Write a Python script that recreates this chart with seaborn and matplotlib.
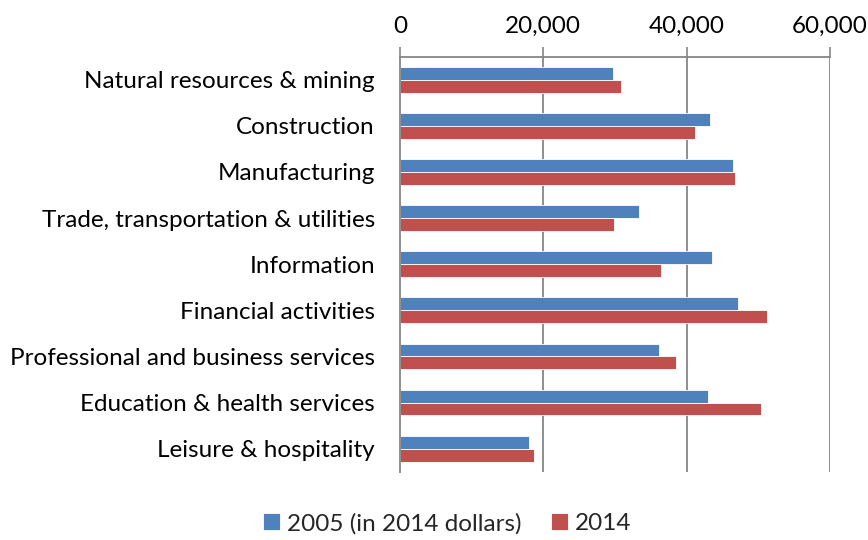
import pandas as pd
import numpy as np
import matplotlib
matplotlib.use('Agg')
import matplotlib.pyplot as plt
from matplotlib.ticker import FuncFormatter, FixedLocator
import seaborn as sns

industries = [
    "Natural resources & mining",
    "Construction",
    "Manufacturing",
    "Trade, transportation & utilities",
    "Information",
    "Financial activities",
    "Professional and business services",
    "Education & health services",
    "Leisure & hospitality",
]
wages_2005 = [29700, 43200, 46500, 33300, 43600, 47100, 36200, 42950, 17950]
wages_2014 = [30800, 41200, 46700, 29800, 36450, 51200, 38500, 50350, 18700]
series_names = ["2005 (in 2014 dollars)", "2014"]
x_ticks = [0, 20000, 40000, 60000]

df = pd.DataFrame({
    "industry": industries * 2,
    "wage": wages_2005 + wages_2014,
    "series": [series_names[0]] * len(industries) + [series_names[1]] * len(industries),
})

sns.set_style("white")
plt.rcParams['font.family'] = ['Lato', 'DejaVu Sans']

fig = plt.figure(figsize=(8.68, 5.40), dpi=100)
ax = fig.add_axes([0.4608, 0.1265, 0.4954, 0.7685])

palette = {series_names[0]: "#4F81BD", series_names[1]: "#C0504D"}
sns.barplot(data=df, x="wage", y="industry", hue="series", orient="h",
            palette=palette, width=0.56, saturation=1, ax=ax,
            edgecolor="#FFFFFF", linewidth=0.6, legend=True)

grey = "#868686"
fs = 17.5
ax.set_xlim(0, 60000)
ax.set_ylim(len(industries) - 0.5, -0.5)
ax.xaxis.tick_top()
ax.set_xticks(x_ticks)
ax.xaxis.set_major_formatter(FuncFormatter(lambda v, p: f"{int(v):,}"))
ax.tick_params(axis="x", which="major", direction="out", length=7, width=1.2,
               color=grey, labelsize=fs, pad=7, labelcolor="black")
for v in x_ticks[1:]:
    ax.axvline(v, color=grey, linewidth=1.3, zorder=0)

# category labels, with tick marks on the category boundaries
ax.tick_params(axis="y", which="major", length=0, labelsize=fs, pad=18, labelcolor="black")
ax.yaxis.set_minor_locator(FixedLocator(np.arange(-0.5, len(industries), 1.0)))
ax.tick_params(axis="y", which="minor", direction="out", length=7, width=1.2, color=grey)
ax.set_xlabel("")
ax.set_ylabel("")

for side in ["right", "bottom"]:
    ax.spines[side].set_visible(False)
for side in ["top", "left"]:
    ax.spines[side].set_color(grey)
    ax.spines[side].set_linewidth(1.3)

handles, labels = ax.get_legend_handles_labels()
ax.legend_.remove()
fig.legend(handles, labels, loc="lower center", bbox_to_anchor=(0.515, -0.03), ncol=2,
           frameon=False, fontsize=fs, handlelength=0.7, handleheight=0.7,
           handletextpad=0.3, columnspacing=1.2)

plt.savefig("out.png", dpi=100)
